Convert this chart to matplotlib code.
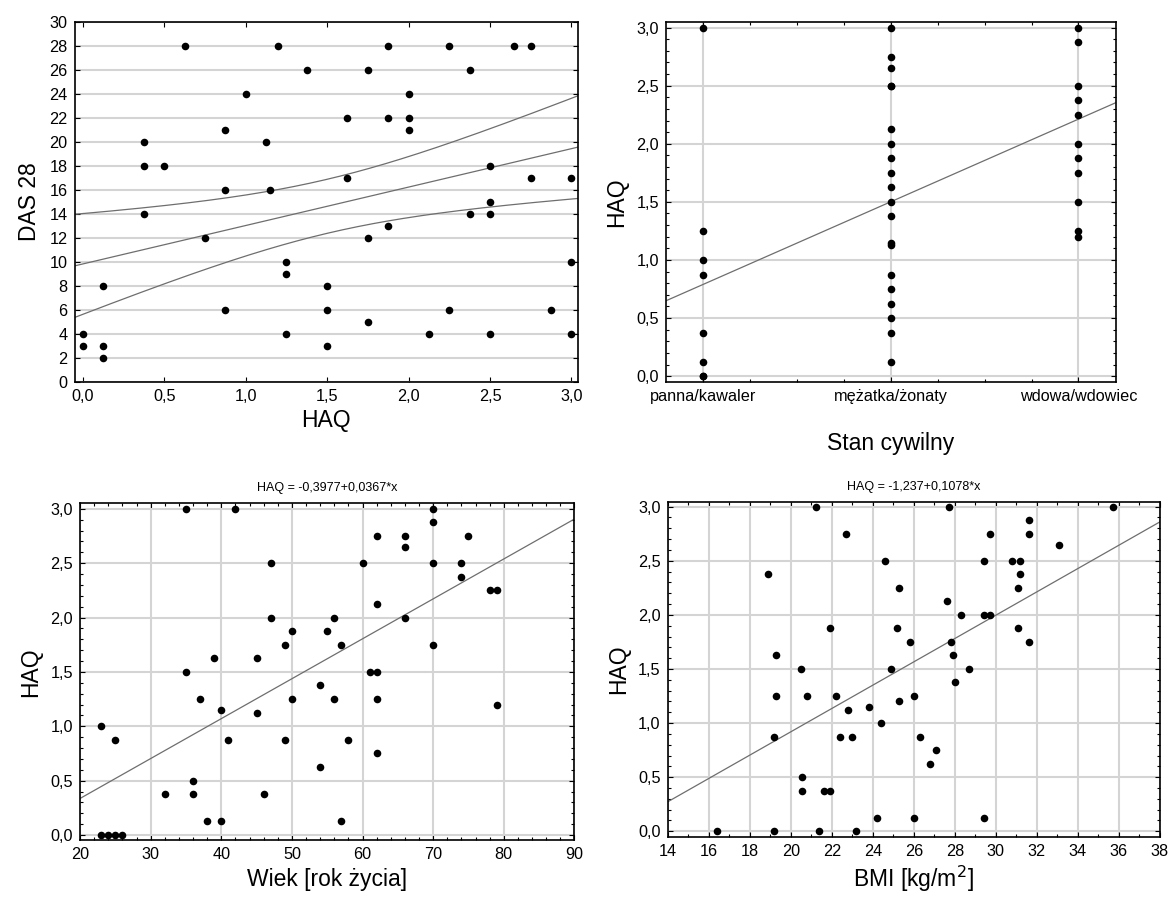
import numpy as np
import matplotlib
matplotlib.use("Agg")
import matplotlib.pyplot as plt
from matplotlib.ticker import FuncFormatter, MultipleLocator

plt.rcParams["font.family"] = ["Liberation Sans", "DejaVu Sans"]

# HAQ vs DAS 28
haq_das = [0.625, 1.2, 1.375, 1.0, 0.875, 1.125, 0.375, 0.375, 0.5, 0.875,
           1.15, 0.375, 0.75, 1.25, 1.25, 0.125, 0.875, 0.0, 0.0, 0.125,
           0.125, 1.25,
           1.875, 2.25, 2.65, 2.75, 1.75, 2.375, 2.0, 1.625, 1.875, 2.0,
           2.0, 1.625, 2.5, 2.75, 3.0, 2.5, 2.375, 2.5, 1.875, 1.75,
           3.0, 1.5, 1.5, 2.25, 2.875, 1.75, 2.125, 2.5, 3.0, 1.5]
das28 = [28, 28, 26, 24, 21, 20, 20, 18, 18, 16,
         16, 14, 12, 10, 9, 8, 6, 4, 3, 3,
         2, 4,
         28, 28, 28, 28, 26, 26, 24, 22, 22, 22,
         21, 17, 18, 17, 17, 15, 14, 14, 13, 12,
         10, 8, 6, 6, 6, 5, 4, 4, 4, 3]
# regression with 95% confidence band: intercept, slope, mean HAQ,
# band half-width at the mean and its growth per unit of distance
das_fit = (9.83, 3.2)
das_band = (1.5, 2.25, 2.36)

# marital status groups
stan_labels = ["panna/kawaler", "mężatka/żonaty", "wdowa/wdowiec"]
haq_panna = [3.0, 1.25, 1.0, 0.875, 0.375, 0.125, 0.0, 0.0]
haq_malz = [3.0, 2.75, 2.65, 2.5, 2.5, 2.125, 2.0, 1.875, 1.75, 1.625, 1.5,
            1.375, 1.15, 1.125, 0.875, 0.75, 0.625, 0.5, 0.375, 0.125]
haq_wdowa = [3.0, 2.875, 2.5, 2.375, 2.25, 2.0, 1.875, 1.75, 1.5, 1.25, 1.2]
stan_fit = (0.79, 0.711)

# age vs HAQ
wiek = [35, 42, 47, 47, 50, 49, 39, 45, 35, 37, 50, 40, 45, 54, 23, 25, 41,
        49, 54, 36, 32, 36, 46, 38, 40, 23, 24, 25, 26,
        70, 70, 62, 66, 66, 75, 60, 70, 74, 74, 78, 79, 62, 56, 66, 55, 57,
        70, 61, 62, 56, 62, 79, 58, 62, 57]
haq_wiek = [3.0, 3.0, 2.5, 2.0, 1.875, 1.75, 1.625, 1.625, 1.5, 1.25, 1.25,
            1.15, 1.125, 1.375, 1.0, 0.875, 0.875, 0.875, 0.625, 0.5, 0.375,
            0.375, 0.375, 0.125, 0.125, 0.0, 0.0, 0.0, 0.0,
            3.0, 2.875, 2.75, 2.75, 2.65, 2.75, 2.5, 2.5, 2.5, 2.375, 2.25,
            2.25, 2.125, 2.0, 2.0, 1.875, 1.75, 1.75, 1.5, 1.5, 1.25, 1.25,
            1.2, 0.875, 0.75, 0.125]

# BMI vs HAQ
bmi = [21.25, 22.7, 24.6, 18.9, 21.9, 19.3, 20.5, 24.9, 19.3, 20.8, 22.2,
       22.8, 23.8, 24.4, 19.2, 22.4, 23.0, 20.55, 20.55, 21.6, 21.9, 24.2,
       16.4, 19.2, 21.4, 23.2,
       27.7, 35.7, 31.6, 29.7, 31.6, 33.1, 29.4, 30.8, 31.2, 31.2, 31.1,
       25.3, 27.6, 28.3, 29.4, 29.7, 25.2, 31.1, 25.8, 27.8, 31.6, 27.9,
       28.7, 28.0, 25.3, 26.0, 26.3, 27.1, 26.8, 26.0, 29.4]
haq_bmi = [3.0, 2.75, 2.5, 2.375, 1.875, 1.625, 1.5, 1.5, 1.25, 1.25, 1.25,
           1.125, 1.15, 1.0, 0.875, 0.875, 0.875, 0.5, 0.375, 0.375, 0.375,
           0.125, 0.0, 0.0, 0.0, 0.0,
           3.0, 3.0, 2.875, 2.75, 2.75, 2.65, 2.5, 2.5, 2.5, 2.375, 2.25,
           2.25, 2.125, 2.0, 2.0, 2.0, 1.875, 1.875, 1.75, 1.75, 1.75, 1.625,
           1.5, 1.375, 1.2, 1.25, 0.875, 0.75, 0.625, 0.125, 0.125]

# fitted models printed above the panels
wiek_coef = (-0.3977, 0.0367)
bmi_coef = (-1.237, 0.1078)

GRID = "#d4d4d4"
LINE = "#6e6e6e"
TICK_FS = 11.7
LABEL_FS = 16.5


def comma(fmt):
    return FuncFormatter(lambda v, p: format(v, fmt).replace(".", ","))


def style(ax):
    ax.tick_params(which="both", direction="in", top=True, right=True,
                   labelsize=TICK_FS, width=0.8)
    ax.tick_params(which="major", length=3.5, pad=5)
    ax.tick_params(which="minor", length=2)
    for s in ax.spines.values():
        s.set_linewidth(1.2)
    ax.set_axisbelow(True)


def dots(ax, x, y):
    ax.scatter(x, y, s=30, c="black", linewidths=0, zorder=3, clip_on=False)


def line(ax, xs, coef):
    xs = np.asarray(xs, dtype=float)
    ax.plot(xs, coef[0] + coef[1] * xs, color=LINE, lw=0.9, zorder=2)


fig = plt.figure(figsize=(11.72, 9.02), dpi=100)

# --- DAS 28 vs HAQ with 95% confidence band
ax1 = fig.add_axes([0.0637, 0.5765, 0.4294, 0.3994])
style(ax1)
xs = np.linspace(-0.05, 3.04, 200)
fit = das_fit[0] + das_fit[1] * xs
half = np.sqrt(das_band[1] ** 2 + (das_band[2] * (xs - das_band[0])) ** 2)
for curve in (fit, fit + half, fit - half):
    ax1.plot(xs, curve, color=LINE, lw=0.9, zorder=2)
dots(ax1, haq_das, das28)
ax1.set_xlim(-0.05, 3.04)
ax1.set_ylim(0, 30)
ax1.xaxis.set_major_locator(MultipleLocator(0.5))
ax1.yaxis.set_major_locator(MultipleLocator(2))
ax1.xaxis.set_major_formatter(comma(".1f"))
ax1.yaxis.grid(True, color=GRID, lw=1.5)
ax1.set_xlabel("HAQ", fontsize=LABEL_FS, labelpad=4)
ax1.set_ylabel("DAS 28", fontsize=LABEL_FS, labelpad=6)

# --- HAQ by marital status
ax2 = fig.add_axes([0.568, 0.5765, 0.3842, 0.3994])
style(ax2)
gx = np.concatenate([np.full(len(g), i) for i, g in
                     enumerate((haq_panna, haq_malz, haq_wdowa))])
gy = np.concatenate([haq_panna, haq_malz, haq_wdowa])
line(ax2, [-0.2, 2.2], stan_fit)
dots(ax2, gx, gy)
ax2.set_xlim(-0.2, 2.2)
ax2.set_ylim(-0.05, 3.05)
ax2.set_xticks([0, 1, 2])
ax2.set_xticklabels(stan_labels)
ax2.xaxis.set_minor_locator(MultipleLocator(0.25))
ax2.yaxis.set_major_locator(MultipleLocator(0.5))
ax2.yaxis.set_minor_locator(MultipleLocator(0.1))
ax2.yaxis.set_major_formatter(comma(".1f"))
ax2.grid(True, which="major", color=GRID, lw=1.5)
ax2.set_xlabel("Stan cywilny", fontsize=LABEL_FS, labelpad=20)
ax2.set_ylabel("HAQ", fontsize=LABEL_FS, labelpad=6)

# --- HAQ vs age
ax3 = fig.add_axes([0.0683, 0.0682, 0.4218, 0.3738])
style(ax3)
line(ax3, [20, 90], wiek_coef)
dots(ax3, wiek, haq_wiek)
ax3.set_xlim(20, 90)
ax3.set_ylim(-0.05, 3.05)
ax3.xaxis.set_major_locator(MultipleLocator(10))
ax3.xaxis.set_minor_locator(MultipleLocator(2))
ax3.yaxis.set_major_locator(MultipleLocator(0.5))
ax3.yaxis.set_minor_locator(MultipleLocator(0.1))
ax3.yaxis.set_major_formatter(comma(".1f"))
ax3.grid(True, which="major", color=GRID, lw=1.5)
ax3.set_title("HAQ = -0,3977+0,0367*x", fontsize=9, pad=9)
ax3.set_xlabel("Wiek [rok życia]", fontsize=LABEL_FS, labelpad=4)
ax3.set_ylabel("HAQ", fontsize=LABEL_FS, labelpad=6)

# --- HAQ vs BMI
ax4 = fig.add_axes([0.5697, 0.0724, 0.42, 0.3707])
style(ax4)
line(ax4, [14, 38], bmi_coef)
dots(ax4, bmi, haq_bmi)
ax4.set_xlim(14, 38)
ax4.set_ylim(-0.05, 3.04)
ax4.xaxis.set_major_locator(MultipleLocator(2))
ax4.xaxis.set_minor_locator(MultipleLocator(1))
ax4.yaxis.set_major_locator(MultipleLocator(0.5))
ax4.yaxis.set_minor_locator(MultipleLocator(0.1))
ax4.yaxis.set_major_formatter(comma(".1f"))
ax4.grid(True, which="major", color=GRID, lw=1.5)
ax4.set_title("HAQ = -1,237+0,1078*x", fontsize=9, pad=9)
ax4.set_xlabel("BMI [kg/m$^2$]", fontsize=LABEL_FS, labelpad=4)
ax4.set_ylabel("HAQ", fontsize=LABEL_FS, labelpad=6)

fig.savefig("out.png", dpi=100)
